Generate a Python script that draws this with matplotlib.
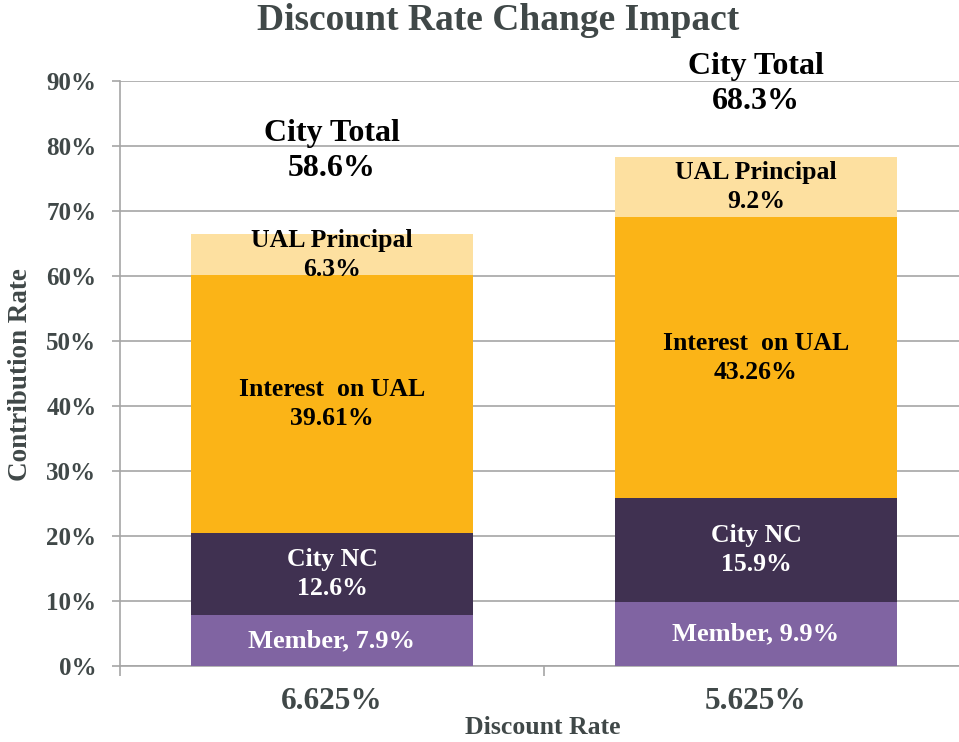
import matplotlib
matplotlib.use("Agg")
import matplotlib.pyplot as plt
import numpy as np

categories = ["6.625%", "5.625%"]
member = [7.9, 9.9]
city_nc = [12.6, 15.9]
interest_ual = [39.61, 43.26]
ual_principal = [6.3, 9.2]
city_total = [58.6, 68.3]
yticks = [0, 10, 20, 30, 40, 50, 60, 70, 80, 90]

plt.rcParams['font.family'] = ['Liberation Serif', 'DejaVu Serif']
plt.rcParams['font.weight'] = 'bold'

fig = plt.figure(figsize=(9.59, 7.42), dpi=100)
ax = fig.add_axes([120/959, 1-666/742, 1-120/959, (666-81)/742])

gray_txt = '#404848'
grid_c = '#A6A6A6'
x = np.arange(len(categories))
w = 0.667

series = [
    (member, '#8064A2', 'white', 'Member'),
    (city_nc, '#403151', 'white', 'City NC'),
    (interest_ual, '#FBB417', 'black', 'Interest on UAL'),
    (ual_principal, '#FDE0A0', 'black', 'UAL Principal'),
]
bottom = np.zeros(len(categories))
for vals, col, tcol, name in series:
    vals = np.array(vals)
    ax.bar(x, vals, w, bottom=bottom, color=col, zorder=3, linewidth=0)
    for i, v in enumerate(vals):
        if name == 'Member':
            lbl = f"{name}, {v:g}%"
            fs = 19
        elif name == 'Interest on UAL':
            lbl = f"Interest  on UAL\n{v:.2f}%"
            fs = 18.5
        else:
            lbl = f"{name}\n{v:g}%"
            fs = 18.5
        ax.text(x[i], bottom[i] + v/2, lbl, ha='center', va='center', color=tcol,
                fontsize=fs, fontweight='bold', linespacing=1.32, zorder=4)
    bottom = bottom + vals

tops = bottom
offsets = [12.8, 11.3]
for i, t in enumerate(city_total):
    ax.text(x[i], tops[i] + offsets[i], f"City Total\n{t:g}%", ha='center', va='center',
            color='black', fontsize=23, fontweight='bold', linespacing=1.3,
            clip_on=False, zorder=5)

ax.set_xlim(-0.5, -0.5 + 839/424)
ax.set_ylim(0, 90)
ax.set_yticks(yticks)
ax.set_yticklabels([f"{t}%" for t in yticks])
ax.yaxis.grid(True, color=grid_c, linewidth=1.2, zorder=0)
ax.set_axisbelow(True)

ax.set_xticks(x)
ax.set_xticklabels(categories)
ax.set_xticks([-0.5, 0.5], minor=True)
ax.tick_params(axis='x', which='major', length=0, pad=15, labelsize=22.5, labelcolor=gray_txt)
ax.tick_params(axis='x', which='minor', length=7, width=1.2, color=grid_c, direction='out')
ax.tick_params(axis='y', length=6, width=1.2, color=grid_c, pad=11, labelsize=18, labelcolor=gray_txt)

for s in ['top', 'right']:
    ax.spines[s].set_visible(False)
for s in ['left', 'bottom']:
    ax.spines[s].set_color(grid_c)
    ax.spines[s].set_linewidth(1.2)

fig.text(498/959, 1-20/742, "Discount Rate Change Impact", ha='center', va='center',
         fontsize=27, fontweight='bold', color=gray_txt)
fig.text(543/959, 1-728/742, "Discount Rate", ha='center', va='center',
         fontsize=18.5, fontweight='bold', color=gray_txt)
fig.text(21/959, 1-375/742, "Contribution Rate", ha='center', va='center', rotation=90,
         fontsize=19.5, fontweight='bold', color=gray_txt)

fig.savefig("out.png", dpi=100)
